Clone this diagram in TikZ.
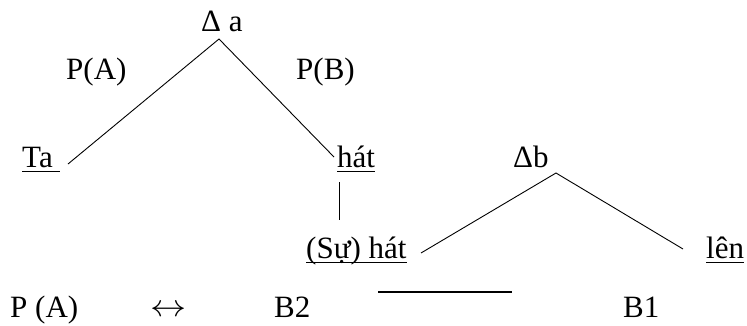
\documentclass[tikz,border=0pt]{standalone}
\usepackage{fontspec}
\usepackage{graphicx}
\setmainfont{Liberation Serif}
\newcommand\myul[1]{\setbox0\hbox{#1}\rlap{\rule[-5pt]{\wd0}{1.3pt}}\box0}
\begin{document}
\begin{tikzpicture}[x=1pt,y=-1pt,
  lbl/.style={inner sep=0pt,anchor=base west,font=\fontsize{31}{36}\selectfont},
  edge/.style={draw=black,line width=0.9pt}]
\useasboundingbox (0,0) rectangle (747,325);
% labels
\node[lbl] (da) at (201,31) {Δ a};
\node[lbl] (pa) at (66,79) {P(A)};
\node[lbl] (pb) at (296,79) {P(B)};
\node[lbl] (ta) at (22,167) {\myul{Ta }};
\node[lbl] (hat) at (337,167) {\myul{hát}};
\node[lbl] (db) at (513,167) {Δb};
\node[lbl] (suhat) at (306,258) {\myul{(Sự) hát}};
\node[lbl] (len) at (706,258) {\myul{lên}};
\node[lbl] (pa2) at (10,317) {P (A)};
\node[inner sep=0pt,anchor=center,font=\fontsize{24}{28}\selectfont] (arr) at (169,311) {\scalebox{1.45}[1.25]{$\leftrightarrow$}};
\node[lbl] (b2) at (274,317) {B2};
\node[lbl] (b1) at (623,317) {B1};
% connector end points
\coordinate (daT) at (219,39);
\coordinate (taR) at (68,164);
\coordinate (hatL) at (334,157);
\coordinate (hatB) at (339,182);
\coordinate (suT) at (339,220);
\coordinate (dbT) at (556,173);
\coordinate (suR) at (421,253);
\coordinate (lenL) at (683,249);
\coordinate (barL) at (378,292);
\coordinate (barR) at (512,292);
% connectors
\draw[edge] (taR) -- (daT) -- (hatL);
\draw[edge] (hatB) -- (suT);
\draw[edge] (suR) -- (dbT) -- (lenL);
\draw[black,line width=2pt] (barL) -- (barR);
\end{tikzpicture}
\end{document}
